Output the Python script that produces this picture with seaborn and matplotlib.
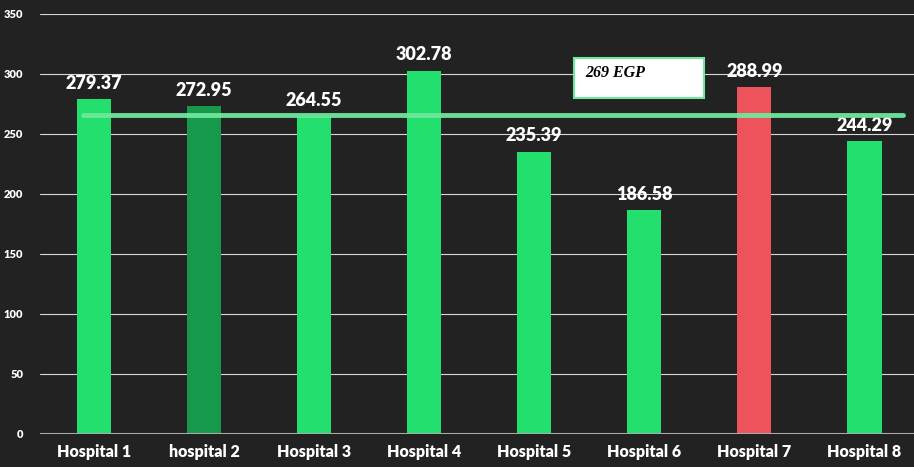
import matplotlib
matplotlib.use('Agg')
import matplotlib.pyplot as plt
from matplotlib.patches import Rectangle
import seaborn as sns
import pandas as pd

hospitals = ['Hospital 1', 'hospital 2', 'Hospital 3', 'Hospital 4',
             'Hospital 5', 'Hospital 6', 'Hospital 7', 'Hospital 8']
costs = [279.37, 272.95, 264.55, 302.78, 235.39, 186.58, 288.99, 244.29]
bar_colors = ['#22df6e', '#17994b', '#22df6e', '#22df6e',
              '#22df6e', '#22df6e', '#ee525b', '#22df6e']
ref_value = 266
ref_label = '269 EGP'

sns.set_theme(style='dark')
plt.rcParams['font.family'] = ['Lato', 'DejaVu Sans']

df = pd.DataFrame({'hospital': hospitals, 'cost': costs})

fig = plt.figure(figsize=(9.14, 4.67), dpi=100, facecolor='#222222')
ax = fig.add_axes([40 / 914, 33 / 467, 1 - 40 / 914, 420 / 467])
ax.set_facecolor('#222222')

sns.barplot(data=df, x='hospital', y='cost', hue='hospital', palette=bar_colors,
            width=0.31, legend=False, ax=ax, saturation=1, linewidth=0)

# value labels
for i, v in enumerate(costs):
    ax.text(i, v + 6, f'{v:.2f}', ha='center', va='bottom', color='white',
            fontsize=13, fontweight='heavy')

# reference line
ax.plot([-0.1, 7.35], [ref_value, ref_value], color='#6ee89c', lw=3.5,
        solid_capstyle='round', alpha=0.95, zorder=5)

# label box
ax.add_patch(Rectangle((4.36, 280), 1.18, 33, facecolor='white', edgecolor='#6ee89c',
                       lw=1.5, zorder=6))
ax.text(4.46, 301, ref_label, family='Liberation Serif', style='italic',
        fontweight='bold', fontsize=11.5, color='black', ha='left', va='center',
        zorder=7)

ax.set_ylim(0, 350)
ax.set_xlim(-0.49, 7.45)
ax.set_yticks(range(0, 351, 50))
ax.yaxis.grid(True, color='#d8d8d8', lw=0.8)
ax.xaxis.grid(False)
ax.set_axisbelow(True)
for s in ax.spines.values():
    s.set_visible(False)
ax.axhline(0, color='#aaaaaa', lw=1.5, zorder=3)
ax.set_xlabel('')
ax.set_ylabel('')
ax.tick_params(axis='y', colors='white', labelsize=8, length=0, pad=12)
ax.tick_params(axis='x', colors='white', labelsize=11.5, length=0, pad=7)
for lbl in ax.get_yticklabels() + ax.get_xticklabels():
    lbl.set_fontweight('heavy')

fig.savefig('out.png', dpi=100, facecolor='#222222')
